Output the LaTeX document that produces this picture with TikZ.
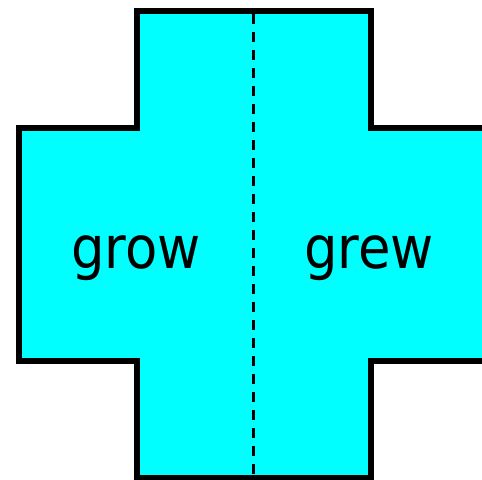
\documentclass[tikz,border=0pt]{standalone}
\usepackage{fontspec}
\setmainfont{DejaVu Sans Condensed}
\definecolor{crossfill}{RGB}{0,255,255}
\begin{document}
\begin{tikzpicture}[x=0.75pt,y=-0.75pt,
  word/.style={anchor=base,font=\fontsize{44}{52}\selectfont}]
  \useasboundingbox (0,0) rectangle (482,479);
  % the cross, its right end runs past the frame
  \draw[line width=4.5pt,fill=crossfill,line join=miter] (136.5,11) -- (371,11) -- (371,128)
     -- (487,128) -- (487,361) -- (371,361) -- (371,478) -- (136.5,478)
     -- (136.5,361) -- (19,361) -- (19,128) -- (136.5,128) -- cycle;
  % fold line down the middle
  \coordinate (top) at (253,14);
  \coordinate (bottom) at (253,475);
  \draw[line width=2.25pt,dash pattern=on 7.5pt off 6pt] (top) -- (bottom);
  \node[word] (grow) at (136,268) {grow};
  \node[word] (grew) at (369,268) {grew};
\end{tikzpicture}
\end{document}
